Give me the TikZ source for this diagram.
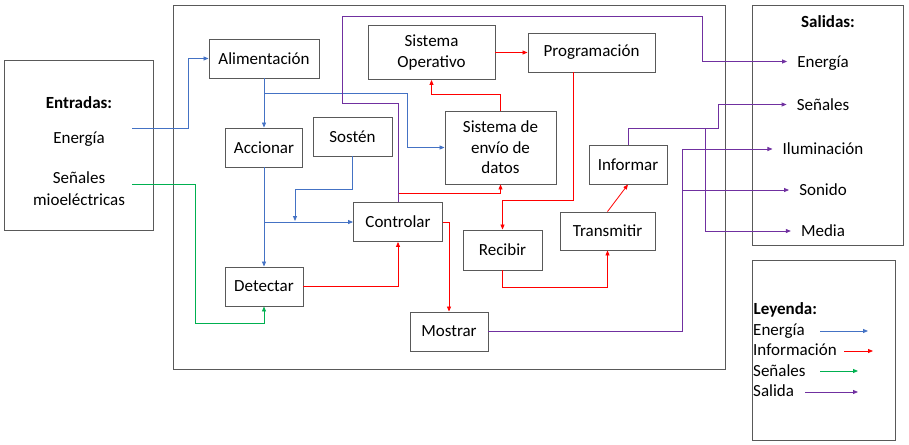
\documentclass[tikz,border=0pt]{standalone}
\usepackage{fontspec}
\setmainfont{Carlito}
\usetikzlibrary{arrows.meta,calc}
\definecolor{cEn}{HTML}{4472C4}
\definecolor{cInf}{HTML}{FF0000}
\definecolor{cSen}{HTML}{00B050}
\definecolor{cSal}{HTML}{7030A0}
\definecolor{cBox}{HTML}{595959}
\begin{document}
\begin{tikzpicture}[x=1pt,y=-1pt,
  every node/.style={font=\fontsize{17pt}{20.5pt}\selectfont},
  boldtxt/.style={font=\fontsize{17pt}{20.5pt}\selectfont\bfseries},
  blk/.style={draw=cBox,line width=0.9pt,fill=white,inner sep=0pt,align=center},
  outerbox/.style={draw=cBox,line width=0.9pt},
  arr/.style={-{Triangle[length=5pt,width=4pt]}},
  en/.style={draw=cEn,line width=0.8pt,arr},
  inf/.style={draw=cInf,line width=0.8pt,arr},
  sen/.style={draw=cSen,line width=0.8pt,arr},
  sal/.style={draw=cSal,line width=0.8pt,arr},
  outl/.style={text height=11pt,text depth=0pt,inner xsep=10pt,inner ysep=0pt},
  legl/.style={anchor=base west,inner sep=0pt}
]
\useasboundingbox (0,0) rectangle (909,444);

% frames
\draw[outerbox] (4,60) rectangle (153,230);
\draw[outerbox] (173,5) rectangle (725,369);
\draw[outerbox] (752,5) rectangle (903,245);
\draw[outerbox] (752,260) rectangle (895,440);

% inputs
\node[boldtxt,anchor=base] (tEnt) at (79,108) {Entradas:};
\node[anchor=base] (tInEn) at (79,143) {Energía};
\node[anchor=base] (tInSe1) at (79,183) {Señales};
\node[anchor=base] (tInSe2) at (79,205) {mioeléctricas};
\coordinate (eS) at (132,128.5);
\coordinate (sS) at (132,184);

% outputs
\node[boldtxt,anchor=base] (tSal) at (828,28) {Salidas:};
\node[outl] (oEn) at (823,61.5) {Energía};
\node[outl] (oSe) at (823,104.5) {Señales};
\node[outl] (oIl) at (823,149) {Iluminación};
\node[outl] (oSo) at (823,190) {Sonido};
\node[outl] (oMe) at (823,231) {Media};

% legend
\node[boldtxt,legl] (lTit) at (753.5,314) {Leyenda:};
\node[legl] (lEn) at (753,335) {Energía};
\node[legl] (lIn) at (753,355.5) {Información};
\node[legl] (lSe) at (753,376) {Señales};
\node[legl] (lSa) at (753,396.5) {Salida};
\coordinate (lEnA) at (820,331);   \coordinate (lEnB) at (868,331);
\coordinate (lInA) at (844,351);   \coordinate (lInB) at (873,351);
\coordinate (lSeA) at (820,371);   \coordinate (lSeB) at (858,371);
\coordinate (lSaA) at (805,392); \coordinate (lSaB) at (858,392);
\draw[en] (lEnA) -- (lEnB);
\draw[inf] (lInA) -- (lInB);
\draw[sen] (lSeA) -- (lSeB);
\draw[sal] (lSaA) -- (lSaB);

% blocks
\node[blk,minimum width=110pt,minimum height=39pt] (alim) at (264,58.5) {Alimentación};
\node[blk,minimum width=77pt,minimum height=39pt] (accion) at (264,147.5) {Accionar};
\node[blk,minimum width=79pt,minimum height=39pt] (sosten) at (352.5,136.5) {Sostén};
\node[blk,minimum width=127pt,minimum height=54pt] (so) at (431.5,52.5) {Sistema\\Operativo};
\node[blk,minimum width=127pt,minimum height=39pt] (prog) at (591.5,52.5) {Programación};
\node[blk,minimum width=111pt,minimum height=73pt] (envio) at (500.5,147.5) {Sistema de\\envío de\\datos};
\node[blk,minimum width=78pt,minimum height=39pt] (inform) at (628,164.5) {Informar};
\node[blk,minimum width=95pt,minimum height=38pt] (transm) at (607.5,231) {Transmitir};
\node[blk,minimum width=79pt,minimum height=40pt] (recibir) at (502.5,250) {Recibir};
\node[blk,minimum width=89pt,minimum height=39pt] (ctrl) at (398,222) {Controlar};
\node[blk,minimum width=78pt,minimum height=39pt] (detect) at (264,286.5) {Detectar};
\node[blk,minimum width=78pt,minimum height=39pt] (mostrar) at (449,331.5) {Mostrar};

% junction coordinates
\coordinate (j1) at (264,93);
\coordinate (j2) at (264,222);
\coordinate (sArr) at (295,221);
\coordinate (jI) at (705,128);
\coordinate (jM) at (682,149);
\coordinate (jM2) at (682,190);

% energy
\draw[en] (eS) -- ++(56,0) |- (alim.west);
\draw[en] (alim.south) -- (accion.north);
\draw[en] (j1) -| ($(envio.west)+(-37,0)$) -- (envio.west);
\draw[en] (accion.south) -- (detect.north);
\draw[en] (j2) -- (ctrl.west);
\draw[en] (sosten.south) -- ++(0,33) -| (sArr);

% signals
\draw[sen] (sS) -| (195,323) -| (detect.south);

% information
\draw[inf] (detect.east) -| (ctrl.south);
\draw[inf] (ctrl.east) -| (mostrar.north);
\draw[inf] (ctrl.north) -- ++(0,-9) -| (envio.south);
\draw[inf] (envio.north) -- ++(0,-16) -| (so.south);
\draw[inf] (so.east) -- (prog.west);
\draw[inf] ([xshift=-18.5pt]prog.south) -- ++(0,128) -| (recibir.north);
\draw[inf] (recibir.south) -- ++(0,17) -| (transm.south);
\draw[inf] (transm.north) -- (inform.south);

% outputs
\draw[sal] (ctrl.north) |- (342,103) |- (702,16) |- (oEn.west);
\draw[sal] (inform.north) |- (718,128) |- (oSe.west);
\draw[sal] (jI) |- (oMe.west);
\draw[sal] (mostrar.east) -| (jM) -- (oIl.west);
\draw[sal] (jM2) -- (oSo.west);
\end{tikzpicture}
\end{document}
